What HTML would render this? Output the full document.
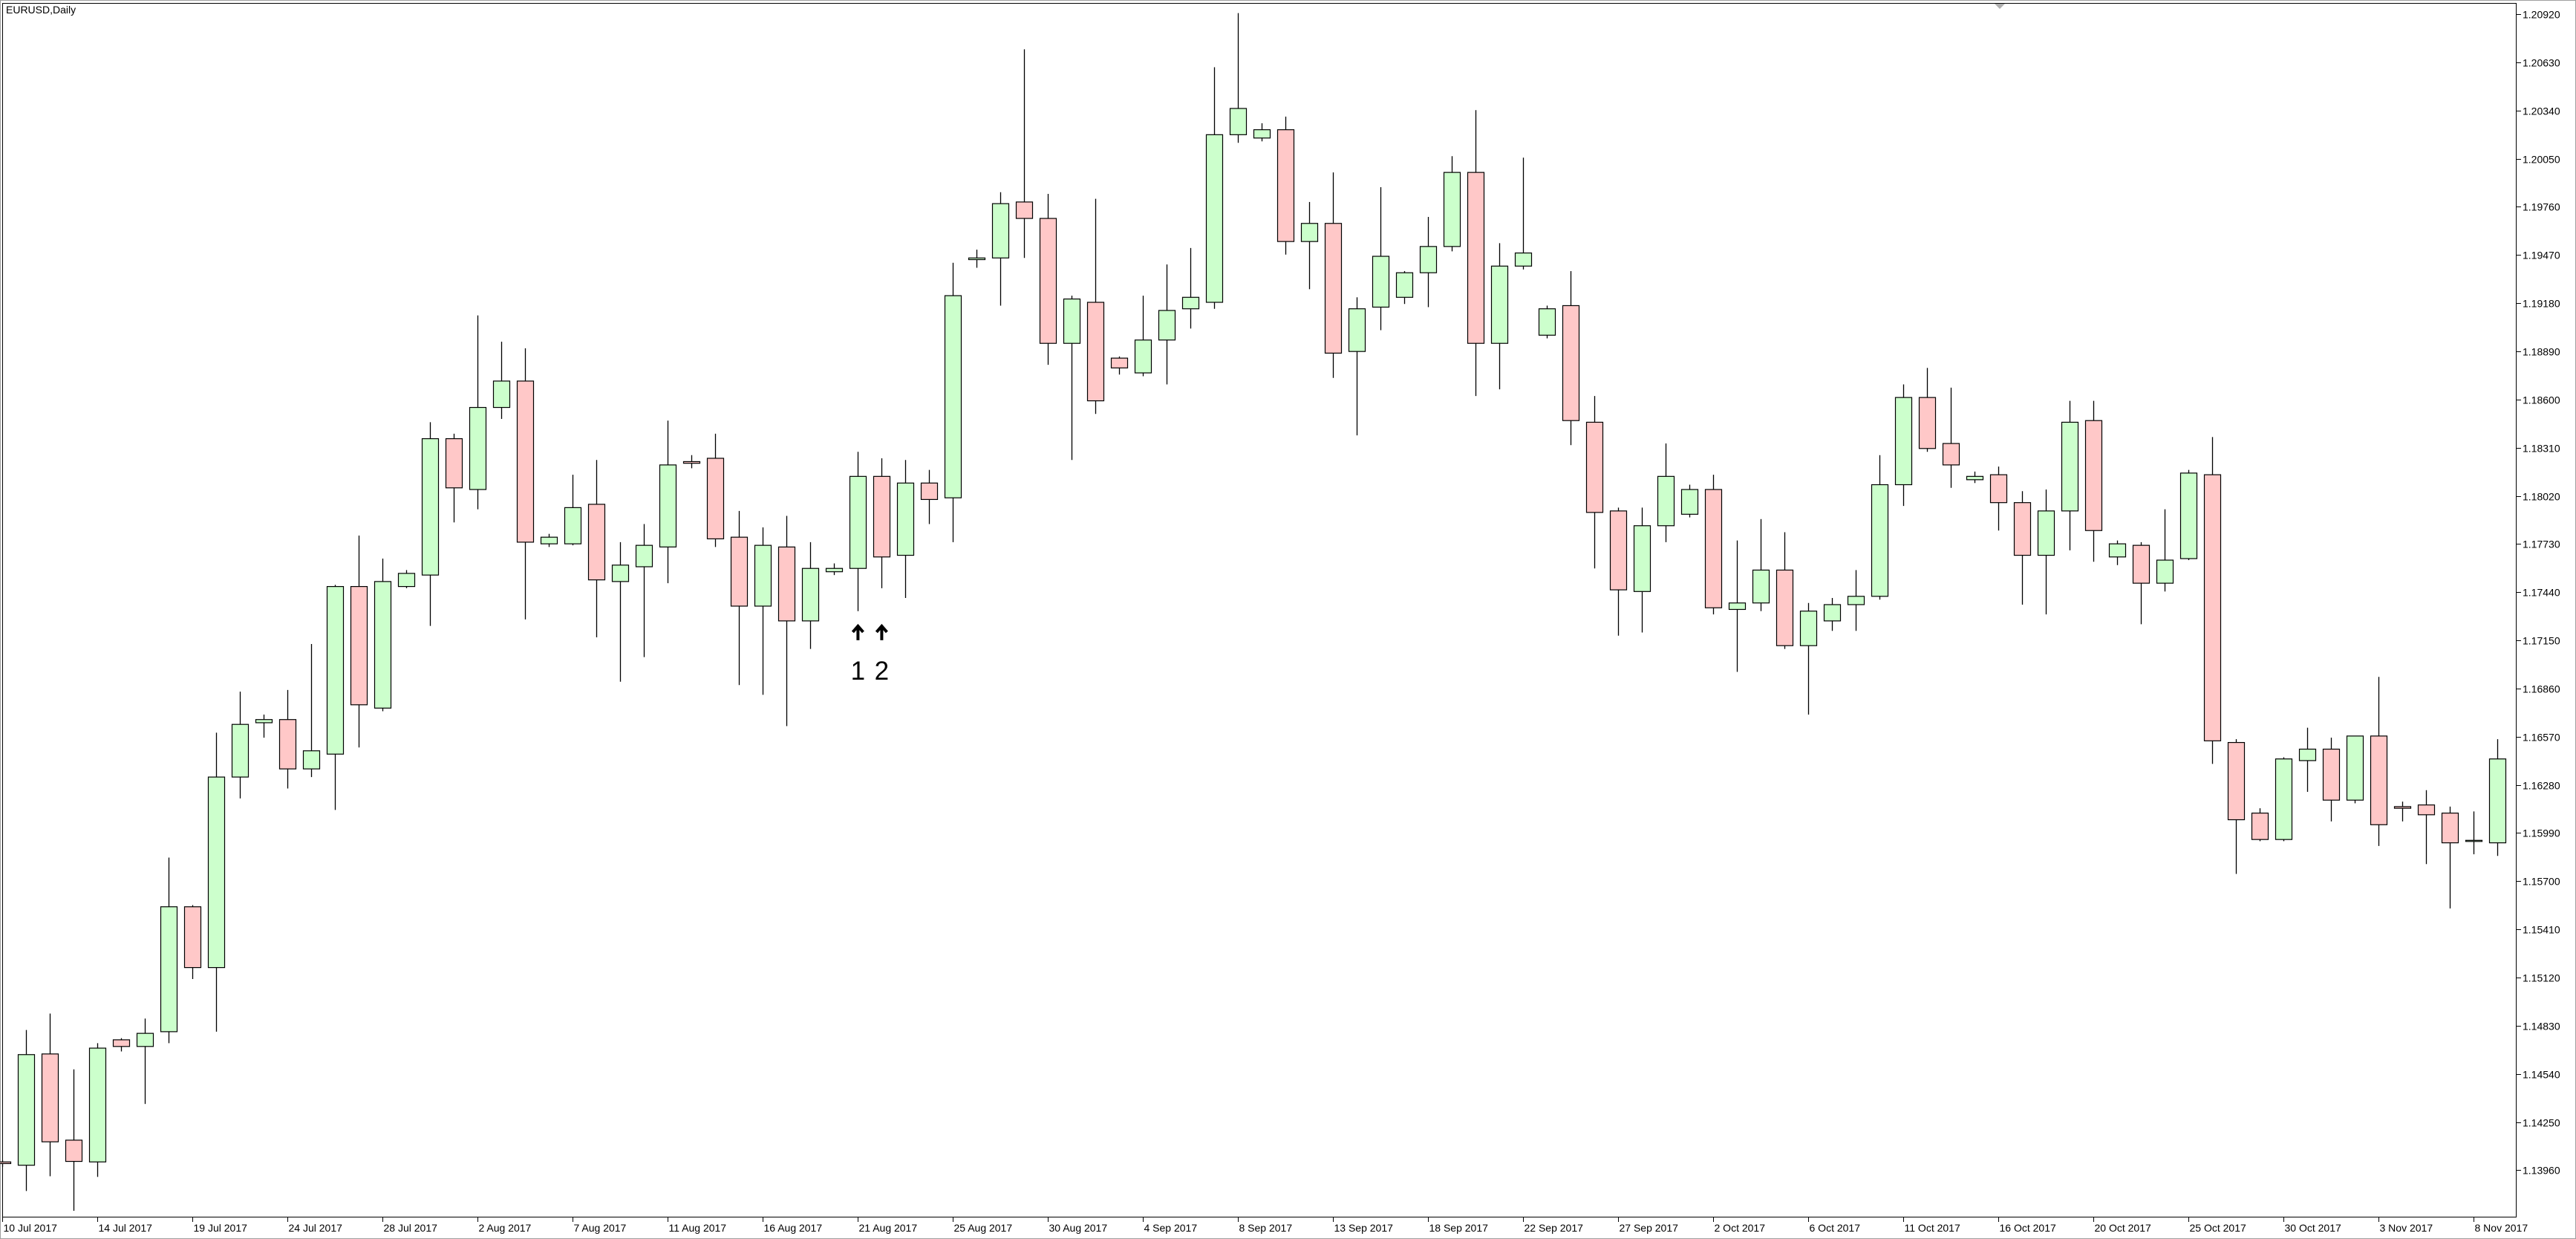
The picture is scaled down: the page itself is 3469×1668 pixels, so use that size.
<!DOCTYPE html>
<html><head><meta charset="utf-8"><style>
html,body{margin:0;padding:0;background:#fff;}
svg{display:block;font-family:"Liberation Sans",sans-serif;}
</style></head><body>
<svg id="chart" width="3469" height="1668" viewBox="0 0 3469 1668" xmlns="http://www.w3.org/2000/svg">
<rect x="0" y="0" width="3469" height="1668" fill="#fff"/>
<rect x="0.5" y="0.5" width="3468" height="1667" fill="none" stroke="#a0a0a0"/>
<rect x="3.5" y="4.5" width="3385" height="1634" fill="none" stroke="#000"/>
<text x="8" y="18" font-size="14" fill="#000">EURUSD,Daily</text>
<path d="M2686 5 L2700 5 L2693 12 Z" fill="#b0b0b0"/>
<g id="yaxis"></g>
<g id="xaxis"></g>
<g id="candles"></g>
<g id="notes"></g>
</svg>
<script>
const opens=[1.1401,1.1399,1.1466,1.14141,1.1401,1.14745,1.14705,1.14794,1.15546,1.1518,1.16327,1.16654,1.16673,1.16376,1.16465,1.17474,1.16742,1.17474,1.17543,1.18364,1.18058,1.18552,1.18711,1.17731,1.17731,1.17969,1.17504,1.17593,1.17712,1.18226,1.18246,1.17771,1.17356,1.17712,1.17267,1.17563,1.17583,1.18137,1.17662,1.18097,1.18008,1.19442,1.19452,1.19789,1.1969,1.18938,1.19185,1.18849,1.1876,1.18958,1.19146,1.19185,1.20194,1.20174,1.20224,1.19551,1.1966,1.18889,1.19156,1.19215,1.19363,1.19521,1.19967,1.18938,1.19403,1.18987,1.19165,1.18463,1.17929,1.17444,1.1784,1.17909,1.18058,1.17336,1.17375,1.17573,1.17118,1.17267,1.17365,1.17415,1.18087,1.18612,1.18335,1.18117,1.18147,1.17979,1.17662,1.17929,1.18473,1.17652,1.17722,1.17494,1.17642,1.18147,1.16535,1.1611,1.15951,1.16426,1.16495,1.16188,1.16574,1.16149,1.16159,1.1611,1.15941,1.15931];
const closes=[1.1400,1.14656,1.14131,1.14013,1.14695,1.14705,1.14784,1.15546,1.1518,1.16327,1.16644,1.16673,1.16376,1.16485,1.17474,1.16762,1.17504,1.17553,1.18364,1.18068,1.18552,1.18711,1.17741,1.17771,1.17949,1.17514,1.17603,1.17722,1.18206,1.18216,1.17761,1.17356,1.17722,1.17267,1.17583,1.17583,1.18137,1.17652,1.18097,1.17998,1.19225,1.19452,1.19779,1.1969,1.18938,1.19205,1.18592,1.1879,1.18958,1.19136,1.19215,1.20194,1.20352,1.20224,1.19551,1.1966,1.18879,1.19146,1.19462,1.19363,1.19521,1.19967,1.18938,1.19403,1.19482,1.19146,1.18473,1.1792,1.17454,1.1784,1.18137,1.18058,1.17346,1.17375,1.17573,1.17118,1.17326,1.17365,1.17415,1.18087,1.18612,1.18305,1.18206,1.18137,1.17979,1.17662,1.17929,1.18463,1.17811,1.17731,1.17494,1.17633,1.18157,1.16545,1.1607,1.15951,1.16436,1.16495,1.16188,1.16574,1.1604,1.16139,1.161,1.15931,1.15946,1.16436];
const highs=[1.1402,1.14804,1.14903,1.14567,1.14725,1.14755,1.14873,1.15842,1.15556,1.16594,1.16841,1.16703,1.16851,1.17128,1.17484,1.17781,1.17642,1.17573,1.18463,1.18394,1.19106,1.18948,1.18908,1.17791,1.18147,1.18236,1.17741,1.1785,1.18473,1.18265,1.18394,1.17929,1.1783,1.17899,1.17741,1.17613,1.18285,1.18246,1.18236,1.18176,1.19423,1.19502,1.19848,1.20708,1.19838,1.19225,1.19808,1.18859,1.19225,1.19413,1.19512,1.206,1.20926,1.20263,1.20303,1.19789,1.19967,1.19215,1.19878,1.19373,1.19699,1.20065,1.20342,1.19541,1.20056,1.19165,1.19373,1.18621,1.17949,1.17949,1.18335,1.18087,1.18147,1.17751,1.1788,1.17801,1.17375,1.17405,1.17573,1.18265,1.18691,1.1879,1.18671,1.18166,1.18196,1.18048,1.18058,1.18592,1.18592,1.17751,1.17741,1.17939,1.18176,1.18374,1.16555,1.16139,1.16446,1.16624,1.16564,1.16574,1.1693,1.16179,1.16248,1.16149,1.1612,1.16555];
const lows=[1.1398,1.13835,1.13924,1.13716,1.1392,1.14675,1.14359,1.14725,1.15111,1.14794,1.16198,1.16564,1.16258,1.16327,1.16129,1.16505,1.16723,1.17464,1.17237,1.1786,1.17939,1.18483,1.17276,1.17712,1.17722,1.17168,1.16901,1.17049,1.17494,1.18186,1.17712,1.16881,1.16822,1.16634,1.17098,1.17543,1.17326,1.17464,1.17405,1.1785,1.17741,1.19393,1.19165,1.19452,1.18809,1.18236,1.18513,1.1875,1.1874,1.18691,1.19027,1.19146,1.20145,1.20154,1.19472,1.19264,1.1873,1.18384,1.19017,1.19175,1.19156,1.19492,1.18621,1.18661,1.19383,1.18968,1.18325,1.17583,1.17178,1.17197,1.17741,1.1789,1.17306,1.1696,1.17326,1.17098,1.16703,1.17207,1.17207,1.17395,1.17959,1.18285,1.18068,1.18097,1.17811,1.17365,1.17306,1.17692,1.17623,1.17603,1.17247,1.17444,1.17633,1.16406,1.15744,1.15941,1.15941,1.16238,1.1606,1.16169,1.15912,1.1606,1.15803,1.15536,1.15862,1.15852];
const priceTicks=[1.2092,1.2063,1.2034,1.2005,1.1976,1.1947,1.1918,1.1889,1.186,1.1831,1.1802,1.1773,1.1744,1.1715,1.1686,1.1657,1.1628,1.1599,1.157,1.1541,1.1512,1.1483,1.1454,1.1425,1.1396];
const dateLabels=["10 Jul 2017","14 Jul 2017","19 Jul 2017","24 Jul 2017","28 Jul 2017","2 Aug 2017","7 Aug 2017","11 Aug 2017","16 Aug 2017","21 Aug 2017","25 Aug 2017","30 Aug 2017","4 Sep 2017","8 Sep 2017","13 Sep 2017","18 Sep 2017","22 Sep 2017","27 Sep 2017","2 Oct 2017","6 Oct 2017","11 Oct 2017","16 Oct 2017","20 Oct 2017","25 Oct 2017","30 Oct 2017","3 Nov 2017","8 Nov 2017"];
const dateIdx=[0,4,8,12,16,20,24,28,32,36,40,44,48,52,56,60,64,68,72,76,80,84,88,92,96,100,104];
const noteIdx=[36,37];
const noteText=["1","2"];
const noteLevel=[1.1724,1.1724];

const NS="http://www.w3.org/2000/svg";
function yOf(p){return 19+(1.2092-p)/0.0029*64.85;}
function xOf(i){return 3.4+32.0*i;}
function mk(tag,attrs,parent){const e=document.createElementNS(NS,tag);for(const k in attrs)e.setAttribute(k,attrs[k]);parent.appendChild(e);return e;}

const ya=document.getElementById('yaxis');
priceTicks.forEach(p=>{
  const y=Math.round(yOf(p))+0.5;
  const t=mk('line',{x1:3389,x2:3395,y1:y,y2:y,stroke:'#000'},ya);
  
  
  const l=mk('text',{x:3397,y:y+5,'font-size':14,fill:'#000'},ya);
  l.textContent=p.toFixed(5);
  
  
});
const xa=document.getElementById('xaxis');
dateIdx.forEach((ix,k)=>{
  const x=Math.round(xOf(ix))+0.5;
  const t=mk('line',{x1:x,x2:x,y1:1638,y2:1645,stroke:'#000'},xa);
  
  
  const l=mk('text',{x:x+1,y:1658,'font-size':14,fill:'#000'},xa);
  l.textContent=dateLabels[k];
  
  
});
const cg=document.getElementById('candles');
for(let i=0;i<opens.length;i++){
  const x=Math.round(xOf(i));
  const g=mk('g',{},cg);
  
  
  mk('line',{x1:x+0.5,x2:x+0.5,y1:yOf(highs[i]),y2:yOf(lows[i]),stroke:'#000','stroke-width':1.3},g);
  const top=yOf(Math.max(opens[i],closes[i])),bot=yOf(Math.min(opens[i],closes[i]));
  const up=closes[i]>=opens[i];
  mk('rect',{x:x-10.5,y:top,width:22,height:Math.max(bot-top,1.5),fill:up?'#ccffcc':'#ffc8c8',stroke:'#000','stroke-width':1.2},g);
}
const ng=document.getElementById('notes');
noteIdx.forEach((ix,k)=>{
  const x=xOf(ix);const y=yOf(noteLevel[k]);
  const a=mk('path',{d:`M${x} ${y} L${x} ${y+20} M${x-7} ${y+9} L${x} ${y+1} L${x+7} ${y+9}`,stroke:'#000','stroke-width':4,fill:'none'},ng);
  
  
  const t=mk('text',{x:x,y:y+73,'font-size':35,'text-anchor':'middle',fill:'#000'},ng);
  t.textContent=noteText[k];
  
  
});
</script>
</body></html>
